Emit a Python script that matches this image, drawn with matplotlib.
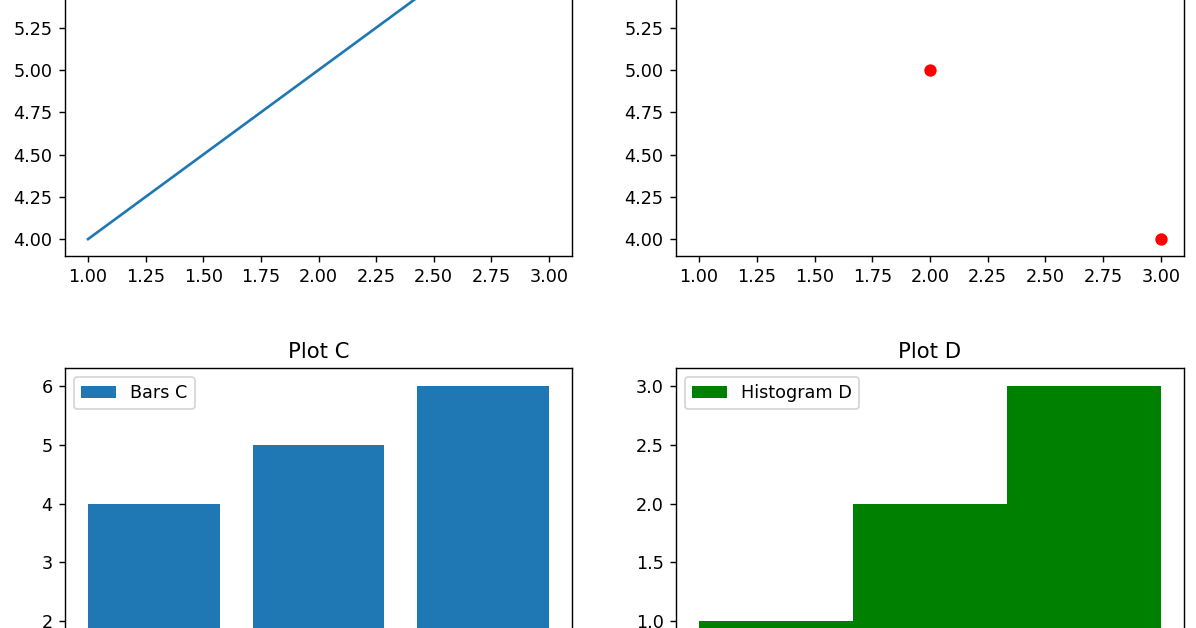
import matplotlib
matplotlib.use("Agg")
import matplotlib.pyplot as plt

# Data
line_x = [1, 2, 3]
line_y = [4, 5, 6]
scatter_x = [1, 2, 3]
scatter_y = [6, 5, 4]
bar_cats = ["A", "B", "C"]
bar_vals = [4, 5, 6]
hist_data = [1, 2, 2, 3, 3, 3]

W, H = 1196, 628
DPI = 127
fig = plt.figure(figsize=(W / DPI, H / DPI), dpi=DPI)

def pos(left, right, top, bottom):
    return [left / W, 1 - bottom / H, (right - left) / W, (bottom - top) / H]

axA = fig.add_axes(pos(65, 572, -116, 256))
axB = fig.add_axes(pos(676, 1184, -116, 256))
axC = fig.add_axes(pos(65, 572, 368.4, 738.5))
axD = fig.add_axes(pos(676, 1184, 368.4, 738.5))

axA.plot(line_x, line_y, label="Line A")

axB.scatter(scatter_x, scatter_y, color="red", label="Points B")

axC.bar(bar_cats, bar_vals, label="Bars C")
axC.set_title("Plot C")
axC.legend(loc="upper left")

axD.hist(hist_data, bins=3, color="green", label="Histogram D")
axD.set_title("Plot D")
axD.legend(loc="upper left")

fig.savefig("out.png", dpi=DPI)
